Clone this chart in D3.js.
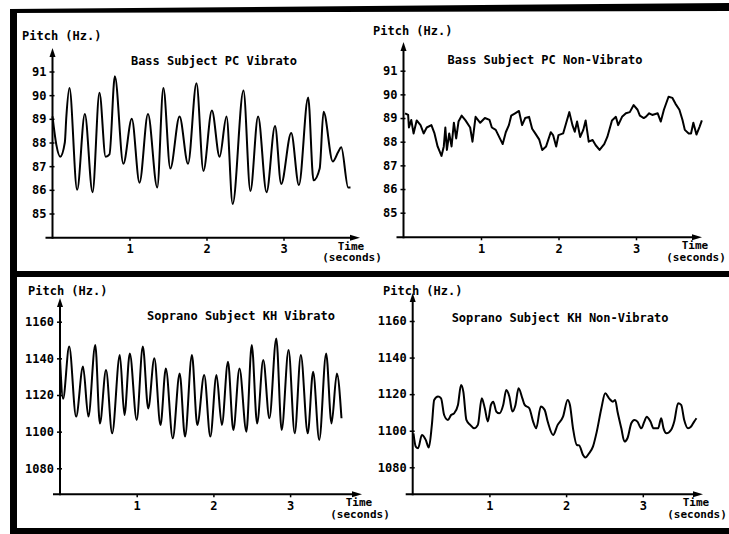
<!DOCTYPE html>
<html>
<head>
<meta charset="utf-8">
<script src="https://cdn.jsdelivr.net/npm/d3@7"></script>
<style>
  body { margin: 0; background: #fff; }
  svg { display: block; }
  text { font-family: "DejaVu Sans Mono", monospace; font-weight: bold; fill: #000; }
</style>
</head>
<body>
<svg id="chart" width="729" height="534"></svg>
<script>
// values (time in seconds, pitch in Hz)
const bassVibT = [0.00, 0.05, 0.10, 0.16, 0.18, 0.22, 0.32, 0.42, 0.52, 0.61, 0.69, 0.74, 0.81, 0.92, 1.03, 1.13, 1.24, 1.36, 1.44, 1.53, 1.65, 1.76, 1.87, 1.96, 2.07, 2.17, 2.26, 2.34, 2.48, 2.57, 2.67, 2.78, 2.89, 2.97, 3.10, 3.20, 3.32, 3.39, 3.47, 3.52, 3.64, 3.71, 3.75, 3.84, 3.87];
const bassVibHz = [89.1, 87.9, 87.4, 88.0, 89.1, 90.3, 86.0, 89.2, 85.9, 90.1, 87.4, 87.5, 90.8, 87.1, 89.0, 86.3, 89.2, 86.1, 90.3, 86.9, 89.1, 87.1, 90.5, 86.8, 89.35, 87.4, 89.1, 85.4, 90.2, 85.95, 89.1, 85.9, 88.7, 86.25, 88.4, 86.2, 89.9, 86.4, 86.9, 89.3, 87.2, 87.6, 87.8, 86.1, 86.1];

const bassNonT = [0.02, 0.06, 0.07, 0.10, 0.13, 0.17, 0.22, 0.26, 0.30, 0.36, 0.40, 0.44, 0.49, 0.52, 0.54, 0.56, 0.59, 0.62, 0.65, 0.68, 0.71, 0.75, 0.80, 0.86, 0.89, 0.93, 0.99, 1.05, 1.11, 1.14, 1.19, 1.25, 1.28, 1.32, 1.36, 1.39, 1.44, 1.49, 1.53, 1.57, 1.62, 1.66, 1.70, 1.75, 1.79, 1.84, 1.90, 1.93, 1.97, 2.00, 2.06, 2.10, 2.14, 2.18, 2.21, 2.24, 2.28, 2.32, 2.35, 2.39, 2.44, 2.48, 2.53, 2.59, 2.63, 2.66, 2.69, 2.74, 2.77, 2.82, 2.87, 2.92, 2.97, 3.02, 3.05, 3.10, 3.13, 3.17, 3.21, 3.28, 3.32, 3.36, 3.42, 3.47, 3.51, 3.56, 3.60, 3.63, 3.68, 3.71, 3.74, 3.78, 3.82, 3.85];
const bassNonHz = [89.2, 89.13, 88.6, 88.92, 88.35, 88.9, 88.7, 88.35, 88.6, 88.7, 88.35, 87.8, 87.4, 87.8, 88.6, 87.65, 88.35, 87.8, 88.8, 88.14, 88.85, 89.1, 88.9, 88.6, 88.0, 89.05, 88.8, 89.0, 88.92, 88.6, 88.5, 88.1, 87.9, 88.4, 88.7, 89.1, 89.2, 89.3, 88.7, 89.0, 89.05, 88.55, 88.35, 88.1, 87.65, 87.8, 88.4, 88.28, 87.8, 88.28, 88.35, 88.8, 89.25, 88.7, 88.42, 88.85, 88.2, 88.5, 88.9, 88.0, 88.07, 87.85, 87.65, 87.9, 88.2, 88.55, 88.9, 89.05, 88.7, 89.05, 89.2, 89.25, 89.55, 89.35, 89.1, 89.0, 89.06, 89.2, 89.13, 89.2, 88.85, 89.35, 89.9, 89.85, 89.6, 89.35, 88.92, 88.5, 88.35, 88.35, 88.8, 88.3, 88.63, 88.9];

const sopVibT = [0.00, 0.04, 0.12, 0.21, 0.30, 0.37, 0.46, 0.52, 0.60, 0.68, 0.78, 0.84, 0.91, 1.00, 1.08, 1.15, 1.23, 1.31, 1.38, 1.47, 1.56, 1.63, 1.72, 1.79, 1.88, 1.96, 2.04, 2.11, 2.19, 2.26, 2.34, 2.43, 2.50, 2.57, 2.65, 2.73, 2.82, 2.89, 2.98, 3.06, 3.14, 3.23, 3.30, 3.38, 3.47, 3.54, 3.61, 3.67];
const sopVibHz = [1140, 1118, 1146.4, 1108.2, 1135.5, 1108.2, 1147.3, 1104.5, 1133.6, 1099.1, 1141.8, 1109.1, 1142.7, 1106.4, 1146.4, 1112.7, 1140, 1103.6, 1134.5, 1096.4, 1131.8, 1097.3, 1141.8, 1103.6, 1130.9, 1097.3, 1130.9, 1103.6, 1138.2, 1100.9, 1134.5, 1100, 1147.3, 1104.5, 1139.1, 1107.3, 1150.9, 1100.9, 1144.5, 1099.1, 1141.8, 1099.1, 1132.7, 1095.5, 1142.7, 1104.5, 1131.8, 1107.3];

const sopNonT = [0.01, 0.04, 0.07, 0.12, 0.17, 0.21, 0.25, 0.28, 0.33, 0.37, 0.41, 0.46, 0.50, 0.54, 0.59, 0.63, 0.66, 0.70, 0.75, 0.80, 0.85, 0.90, 0.94, 0.98, 1.02, 1.05, 1.09, 1.13, 1.18, 1.22, 1.26, 1.30, 1.34, 1.38, 1.43, 1.46, 1.52, 1.57, 1.61, 1.67, 1.72, 1.76, 1.83, 1.89, 1.96, 2.02, 2.05, 2.09, 2.14, 2.17, 2.22, 2.25, 2.30, 2.35, 2.40, 2.46, 2.51, 2.56, 2.61, 2.64, 2.67, 2.72, 2.76, 2.80, 2.85, 2.89, 2.93, 2.98, 3.02, 3.05, 3.10, 3.14, 3.20, 3.24, 3.27, 3.31, 3.37, 3.41, 3.46, 3.50, 3.54, 3.59, 3.63, 3.67, 3.70];
const sopNonHz = [1098.6, 1091.3, 1090.4, 1097.7, 1095, 1090.8, 1103.2, 1116.8, 1118.7, 1117.7, 1108.6, 1105.9, 1108.6, 1109.5, 1114.1, 1125, 1121.4, 1105.9, 1103.2, 1101.3, 1103.2, 1117.7, 1112.3, 1105, 1114.1, 1115.9, 1110.5, 1109.5, 1114.1, 1122.3, 1118.7, 1110.5, 1114.1, 1123.2, 1117.7, 1114.1, 1112.3, 1105, 1101.3, 1113.2, 1111.4, 1105, 1097.7, 1103.2, 1107.7, 1116.8, 1114.1, 1101.3, 1092.2, 1092, 1086.8, 1085.3, 1087.7, 1091.3, 1099.5, 1112.3, 1120.5, 1117.7, 1115.9, 1116.8, 1110.5, 1101.3, 1094.1, 1095.9, 1104.1, 1105.9, 1105, 1101.3, 1105, 1107.7, 1105, 1101.3, 1101.3, 1106.8, 1101.3, 1098.6, 1100.5, 1105, 1115, 1114.1, 1105.9, 1101.3, 1102.3, 1105, 1106.8];

const bassTicks = [85, 86, 87, 88, 89, 90, 91];
const sopTicks = [1080, 1100, 1120, 1140, 1160];
const timeTicks = [1, 2, 3];
const titles = ["Bass Subject PC Vibrato", "Bass Subject PC Non-Vibrato",
                "Soprano Subject KH Vibrato", "Soprano Subject KH Non-Vibrato"];

const svg = d3.select('#chart');

// scanned frame: thick left bar, top bar, middle divider and bottom bar
svg.append('rect').attr('x', 10).attr('y', 10).attr('width', 7).attr('height', 524).attr('fill', '#000');
svg.append('path').attr('d', 'M10,9 L729,3 L729,11 L10,13 Z').attr('fill', '#000');
svg.append('rect').attr('x', 10).attr('y', 271).attr('width', 719).attr('height', 6).attr('fill', '#000');
svg.append('rect').attr('x', 10).attr('y', 528).attr('width', 719).attr('height', 6).attr('fill', '#000');

const panels = [
  { title: titles[0], t: bassVibT, hz: bassVibHz, ticks: bassTicks, curve: d3.curveMonotoneX,
    ax: 52.5, sec: 77, yDom: [85, 91], yRng: [213.5, 71.5], base: 237.7, top: 48, end: 360,
    pitchX: 22, pitchY: 40, titleX: 214, titleY: 65, timeX: 351 },
  { title: titles[1], t: bassNonT, hz: bassNonHz, ticks: bassTicks, curve: d3.curveLinear,
    ax: 403.5, sec: 77.5, yDom: [85, 91], yRng: [212.7, 70.7], base: 237.3, top: 42, end: 702,
    pitchX: 373, pitchY: 35, titleX: 545, titleY: 64, timeX: 695 },
  { title: titles[2], t: sopVibT, hz: sopVibHz, ticks: sopTicks, curve: d3.curveMonotoneX,
    ax: 60, sec: 76.7, yDom: [1080, 1160], yRng: [468.3, 321.7], base: 494.3, top: 298, end: 362,
    pitchX: 28, pitchY: 295, titleX: 241, titleY: 320, timeX: 359 },
  { title: titles[3], t: sopNonT, hz: sopNonHz, ticks: sopTicks, curve: d3.curveMonotoneX,
    ax: 412.7, sec: 76.7, yDom: [1080, 1160], yRng: [467.3, 321], base: 494.3, top: 293, end: 703,
    pitchX: 383, pitchY: 295, titleX: 560, titleY: 322, timeX: 696 }
];

panels.forEach(p => {
  const x = d3.scaleLinear().domain([0, 1]).range([p.ax, p.ax + p.sec]);
  const y = d3.scaleLinear().domain(p.yDom).range(p.yRng);
  const g = svg.append('g');

  // axis lines with arrow heads
  g.append('line').attr('x1', p.ax).attr('x2', p.ax).attr('y1', p.base + 1).attr('y2', p.top + 6)
    .attr('stroke', '#000').attr('stroke-width', 2);
  g.append('line').attr('x1', p.ax - 7).attr('x2', p.end - 6).attr('y1', p.base).attr('y2', p.base)
    .attr('stroke', '#000').attr('stroke-width', 2);
  g.append('path').attr('d', `M${p.ax},${p.top} L${p.ax - 3},${p.top + 9} L${p.ax + 3},${p.top + 9} Z`);
  g.append('path').attr('d', `M${p.end},${p.base} L${p.end - 10},${p.base - 3} L${p.end - 10},${p.base + 3} Z`);

  // y ticks
  const yAxis = g.append('g').attr('transform', `translate(${p.ax},0)`)
    .call(d3.axisLeft(y).tickValues(p.ticks).tickSize(3).tickPadding(3).tickFormat(d3.format('d')));
  yAxis.select('.domain').remove();
  yAxis.selectAll('.tick line').attr('x2', -3).attr('x1', 2).attr('stroke-width', 1.5);
  yAxis.selectAll('.tick text').attr('font-size', 12).style('font-family', '"DejaVu Sans Mono", monospace')
    .style('font-weight', 'bold');

  // x ticks
  const xAxis = g.append('g').attr('transform', `translate(0,${p.base})`)
    .call(d3.axisBottom(x).tickValues(timeTicks).tickSize(3).tickPadding(4).tickFormat(d3.format('d')));
  xAxis.select('.domain').remove();
  xAxis.selectAll('.tick line').attr('stroke-width', 1.5);
  xAxis.selectAll('.tick text').attr('font-size', 12).style('font-family', '"DejaVu Sans Mono", monospace')
    .style('font-weight', 'bold');

  // labels
  g.append('text').attr('x', p.pitchX).attr('y', p.pitchY).attr('font-size', 12).text('Pitch (Hz.)');
  g.append('text').attr('x', p.titleX).attr('y', p.titleY).attr('font-size', 12)
    .attr('text-anchor', 'middle').text(p.title);
  g.append('text').attr('x', p.timeX).attr('y', p.base + 12).attr('font-size', 11)
    .attr('text-anchor', 'middle').text('Time');
  g.append('text').attr('x', p.timeX + 1).attr('y', p.base + 23.5).attr('font-size', 11)
    .attr('text-anchor', 'middle').text('(seconds)');

  // pitch trace
  const line = d3.line().x(d => x(d[0])).y(d => y(d[1])).curve(p.curve);
  g.append('path').datum(d3.zip(p.t, p.hz)).attr('d', line)
    .attr('fill', 'none').attr('stroke', '#000').attr('stroke-width', 2).attr('stroke-linejoin', 'round');
});
</script>
</body>
</html>
